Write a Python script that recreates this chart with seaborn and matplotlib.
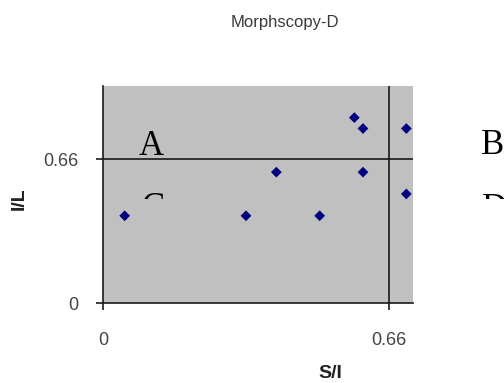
import matplotlib
matplotlib.use("Agg")
import matplotlib.pyplot as plt
from matplotlib.transforms import Bbox
import seaborn as sns
import pandas as pd

# Data
s_i = [0.05, 0.33, 0.40, 0.50, 0.58, 0.60, 0.60, 0.70, 0.70]
i_l = [0.40, 0.40, 0.60, 0.40, 0.85, 0.80, 0.60, 0.80, 0.50]
threshold = 0.66
tick_vals = [0, 0.66]
tick_labels = ["0", "0.66"]
title = "Morphscopy-D"
quadrants = ["A", "B", "C", "D"]

df = pd.DataFrame({"S/I": s_i, "I/L": i_l})

W, H = 504, 383
fig = plt.figure(figsize=(W / 100, H / 100), dpi=100)
fig.patch.set_facecolor("white")
ax = fig.add_axes([103 / W, 1 - 303 / H, 310 / W, 217 / H])
ax.set_facecolor("#C0C0C0")

sns.scatterplot(data=df, x="S/I", y="I/L", marker="D", s=30, color="#000080",
                edgecolor="none", linewidth=0, ax=ax, zorder=3)

ax.axhline(threshold, color="#1a1a1a", lw=1.2, zorder=2)
ax.axvline(threshold, color="#1a1a1a", lw=1.2, zorder=2)

ax.set_xlim(0, 0.7154)
ax.set_ylim(0, 0.995)
ax.set_xticks(tick_vals)
ax.set_xticklabels(tick_labels)
ax.set_yticks(tick_vals)
ax.set_yticklabels(tick_labels)
ax.tick_params(axis="both", direction="out", length=5, width=1.2, color="#1a1a1a",
               labelsize=13, labelcolor="#444444")
ax.tick_params(axis="x", pad=16)
ax.tick_params(axis="y", pad=13)
for lab in ax.get_xticklabels() + ax.get_yticklabels():
    lab.set_family("Liberation Sans")
for side in ["top", "right"]:
    ax.spines[side].set_visible(False)
for side in ["left", "bottom"]:
    ax.spines[side].set_color("#1a1a1a")
    ax.spines[side].set_linewidth(1.2)
ax.set_xlabel("")
ax.set_ylabel("")

# Title and axis labels
fig.text(285 / W, 1 - 27 / H, title, ha="center", va="baseline",
         fontsize=12, family="Liberation Sans", color="#3a3a3a")
fig.text(330 / W, 1 - 373 / H, "S/I", ha="center", va="center",
         fontsize=14, fontweight="bold", family="Liberation Sans", color="#222222")
fig.text(19 / W, 1 - 199 / H, "I/L", ha="center", va="center", rotation=90,
         fontsize=14, fontweight="bold", family="Liberation Sans", color="#222222")

# Quadrant labels (C and D partly hidden as in the reference)
pos = {"A": (139, 155), "B": (481, 154), "C": (142, 217), "D": (482, 218)}
clip = Bbox.from_extents(0, H - 198.5, W, H)
for q in quadrants:
    x, y = pos[q]
    t = fig.text(x / W, 1 - y / H, q, ha="left", va="baseline", fontsize=25,
                 family="Liberation Serif", color="black")
    if q in ("C", "D"):
        t.set_clip_box(clip)
        t.set_clip_on(True)

fig.savefig("out.png", dpi=100)
